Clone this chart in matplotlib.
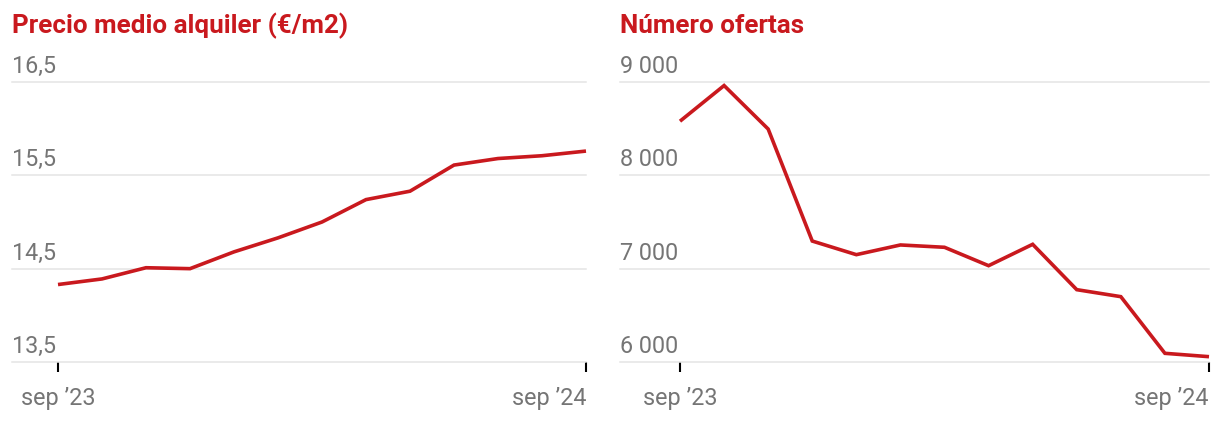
import numpy as np
import matplotlib
matplotlib.use('Agg')
import matplotlib.pyplot as plt
from matplotlib import transforms

plt.rcParams['font.family'] = ['Roboto', 'DejaVu Sans']

# monthly values, sep '23 -> sep '24
months = list(range(13))
precio = [14.33, 14.39, 14.51, 14.50, 14.68, 14.83, 15.00, 15.24, 15.33, 15.61, 15.68, 15.71, 15.76]
ofertas = [8580, 8962, 8496, 7296, 7150, 7254, 7229, 7032, 7261, 6775, 6700, 6093, 6057]

precio_ticks = [13.5, 14.5, 15.5, 16.5]
precio_labels = ['13,5', '14,5', '15,5', '16,5']
ofertas_ticks = [6000, 7000, 8000, 9000]
ofertas_labels = ['6 000', '7 000', '8 000', '9 000']
x_labels = ['sep \u201923', 'sep \u201924']

RED = '#c9191e'
GREY = '#757575'
GRID = '#e4e4e4'

W, H = 1220, 422
fig = plt.figure(figsize=(W / 100, H / 100), dpi=100)


def panel(x0, x1, lead_px, title, vals, ticks, labels):
    # axes box in pixels: gridlines from x0 to x1, y 82..362
    ax = fig.add_axes([x0 / W, (H - 362) / H, (x1 - x0) / W, 280 / H])
    step = (x1 - x0 - lead_px) / 12
    ax.set_xlim(-lead_px / step, 12)
    ax.set_ylim(ticks[0], ticks[-1])
    for s in ax.spines.values():
        s.set_visible(False)
    ax.set_yticks(ticks)
    ax.set_yticklabels([])
    ax.tick_params(axis='y', length=0)
    ax.yaxis.grid(True, color=GRID, linewidth=1.1)
    for gl in ax.get_ygridlines():
        gl.set_clip_on(False)
    ax.set_axisbelow(True)

    ax.plot(months, vals, color=RED, lw=2.6, solid_capstyle='butt',
            solid_joinstyle='miter', clip_on=False, zorder=3)

    trans = transforms.blended_transform_factory(ax.transAxes, ax.transData)
    trans = transforms.offset_copy(trans, fig=fig, x=0, y=9, units='dots')
    for t, lab in zip(ticks, labels):
        ax.text(0, t, lab, transform=trans, ha='left', va='baseline',
                fontsize=16.8, color=GREY)

    ax.set_xticks([0, 12])
    ax.set_xticklabels(x_labels, fontsize=16.8, color=GREY)
    ax.tick_params(axis='x', length=7.5, width=1.5, color='black', pad=10.5)
    xl = ax.get_xticklabels()
    xl[0].set_ha('center')
    xl[1].set_ha('right')

    ax.text(0, 1, title, transform=transforms.offset_copy(
        ax.transAxes, fig=fig, x=0, y=49, units='dots'),
        ha='left', va='baseline', fontsize=18.7, fontweight='bold', color=RED)
    return ax


panel(12, 586, 46, 'Precio medio alquiler (\u20ac/m2)', precio, precio_ticks, precio_labels)
panel(620, 1209, 60, 'N\u00famero ofertas', ofertas, ofertas_ticks, ofertas_labels)

fig.savefig('out.png', dpi=100)
